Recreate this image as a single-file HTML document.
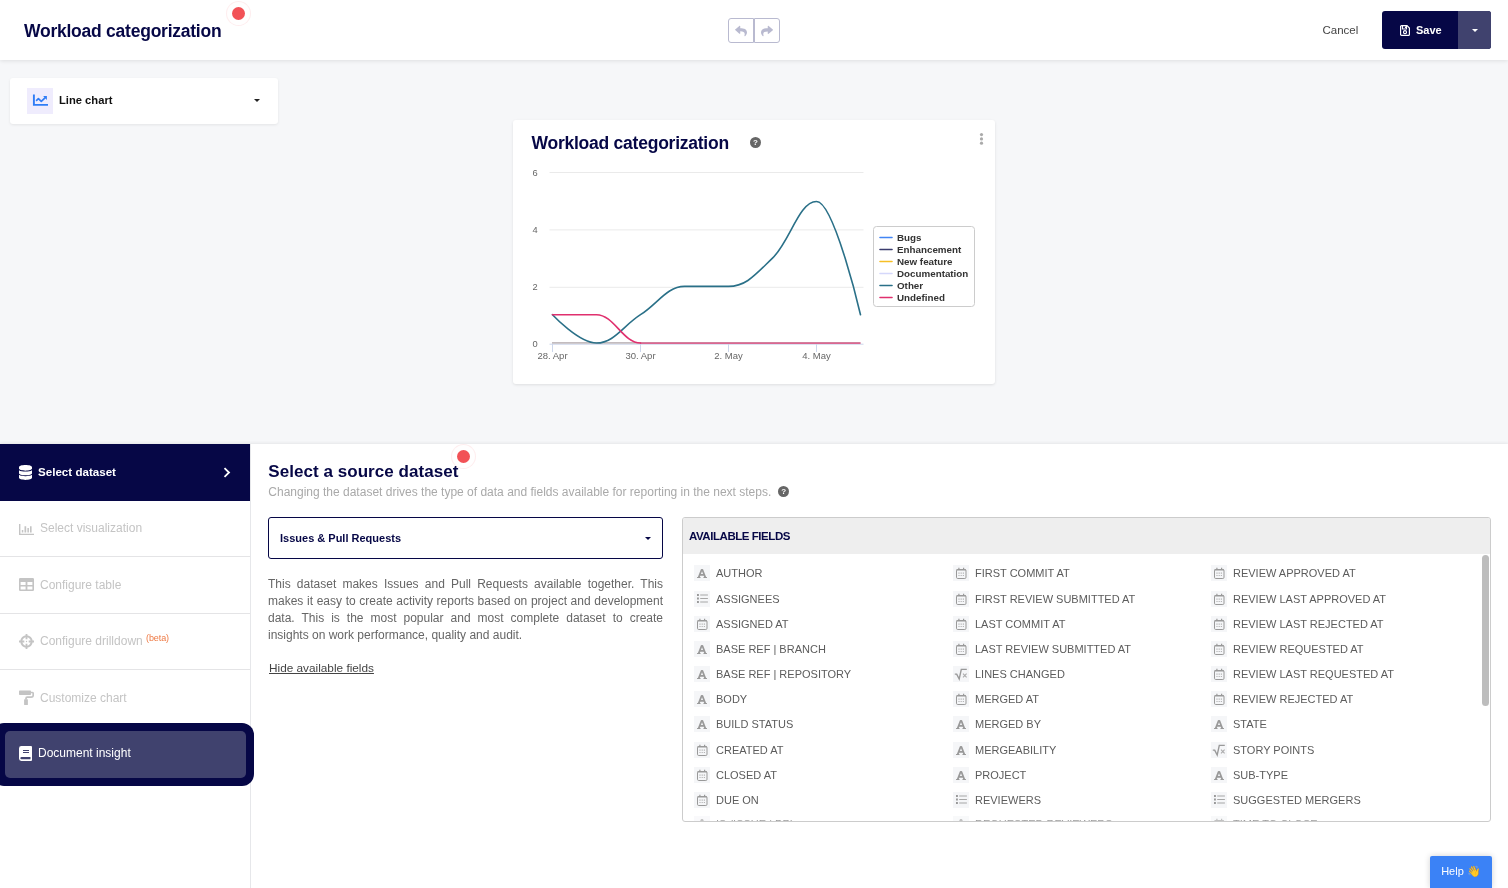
<!DOCTYPE html>
<html lang="en">
<head>
<meta charset="utf-8">
<title>Workload categorization</title>
<style>
*{box-sizing:border-box;margin:0;padding:0}
html,body{width:1508px;height:888px;overflow:hidden}
body{background:#f6f7f9;font-family:"Liberation Sans",sans-serif;color:#333;position:relative}
.abs{position:absolute}
/* header */
#hdr{position:absolute;left:0;top:0;width:1508px;height:60px;background:#fff;box-shadow:0 1px 4px rgba(0,0,0,.10)}
.h1{position:absolute;font-weight:700;color:#060746;white-space:nowrap;line-height:1}
.dot{position:absolute;width:13px;height:13px;border-radius:50%;background:#f25156;box-shadow:0 0 0 5px rgba(255,255,255,.9),0 0 0 6px rgba(242,81,86,.10)}
.ubtn{position:absolute;top:18px;width:26px;height:25px;border:1px solid #b9bad0;background:#fff;border-radius:3px}
.ubtn svg{position:absolute;left:6px;top:6px;width:12px;height:12px;fill:#b9bad0}
#cancel{position:absolute;left:1322.500px;top:23px;font-size:11.5px;line-height:14px;color:#444}
#save{position:absolute;left:1382px;top:11px;width:109px;height:38px;background:#060746;border-radius:3px;overflow:hidden}
#save .dd{position:absolute;left:76px;top:0;width:33px;height:38px;background:#40426e}
#save .tx{position:absolute;left:34px;top:12px;font-size:11px;line-height:14px;font-weight:700;color:#fff}
/* selector card */
#sel{position:absolute;left:10px;top:77.500px;width:267.500px;height:46px;background:#fff;border-radius:3px;box-shadow:0 1px 3px rgba(0,0,0,.08)}
#sel .ic{position:absolute;left:17px;top:10.500px;width:26px;height:26px;background:#efecfd}
#sel .tx{position:absolute;left:49px;top:15.500px;font-size:11.2px;line-height:14px;font-weight:700;color:#111}
.caret{position:absolute;width:0;height:0;border-left:3px solid transparent;border-right:3px solid transparent;border-top:3.5px solid #222}
/* chart card */
#card{position:absolute;left:513px;top:120px;width:482px;height:264px;background:#fff;border-radius:3px;box-shadow:0 1px 3px rgba(0,0,0,.10)}
/* bottom panel */
#panel{position:absolute;left:0;top:444px;width:1508px;height:444px;background:#fff;box-shadow:0 -1px 3px rgba(0,0,0,.07)}
#side{position:absolute;left:0;top:0;width:251px;height:444px;border-right:1px solid #e6e7ea}
.step{position:absolute;left:0;width:250px;height:57px;border-bottom:1px solid #e4e4e6;color:#c4c4c4;font-size:12px}
.step .tx{position:absolute;left:40px;top:21px;line-height:14px;white-space:nowrap}
.step svg{position:absolute;fill:#c4c4c4}
.step.on{background:#060746;color:#fff;border:0;font-weight:700;font-size:11.6px}
.beta{font-size:9px;color:#ee7a45;position:relative;top:-4px;left:0;letter-spacing:-.1px}
#doc{position:absolute;left:-8px;top:279px;width:262px;height:63px;background:#060746;border-radius:12px}
#doc .in{position:absolute;left:13px;top:8px;width:241px;height:47px;background:#40426e;border-radius:5px}
#doc .tx{position:absolute;left:46px;top:23px;font-size:12px;line-height:14px;color:#fff;white-space:nowrap}
/* content */
#sub{position:absolute;left:268.300px;top:41px;font-size:12px;line-height:14px;color:#a9a9a9;white-space:nowrap}
.q{position:absolute;width:11px;height:11px;border-radius:50%;background:#666;color:#fff;font-size:8px;font-weight:700;line-height:11px;text-align:center}
#dd{position:absolute;left:268px;top:73px;width:395px;height:42px;border:1px solid #060746;border-radius:3px}
#dd .tx{position:absolute;left:11px;top:13px;font-size:11px;line-height:14px;font-weight:700;color:#060746;white-space:nowrap}
#desc{position:absolute;left:268px;top:131.500px;width:395px;font-size:12px;line-height:17px;color:#666}
#desc div{text-align:justify;text-align-last:justify;white-space:nowrap;height:17px}
#desc div.last{text-align:left;text-align-last:left}
#hide{position:absolute;left:269px;top:217px;font-size:11.8px;line-height:14px;color:#444;text-decoration:underline;white-space:nowrap}
#af{position:absolute;left:682px;top:73px;width:809px;height:305px;border:1px solid #ccc;border-radius:3px;overflow:hidden;background:#fff}
#af .hd{position:absolute;left:0;top:0;width:100%;height:36px;background:#eee}
#af .hd span{position:absolute;left:6px;top:11px;font-size:11.5px;letter-spacing:-.45px;line-height:14px;font-weight:700;color:#060746;white-space:nowrap}
#af .sb{position:absolute;left:799px;top:37px;width:7px;height:151px;border-radius:3.500px;background:#bdbdbd}
.f{position:absolute;height:16px;font-size:11px;line-height:16px;color:#5c5c5c;white-space:nowrap;padding-left:22px}
.f i{position:absolute;left:0;top:0;width:16px;height:16px;background:#f5f6f8}
.f svg{position:absolute;left:0;top:0;fill:#999}
#help{position:absolute;left:1430px;top:856px;width:62px;height:32px;background:#3b82f6;border-radius:2px 2px 0 0;color:#fff;font-size:11px;line-height:30.500px;text-align:center;white-space:nowrap;box-shadow:0 0 6px rgba(0,0,0,.18)}
</style>
</head>
<body>
<div id="hdr">
  <div class="h1" id="t1" style="left:24px;top:22.500px;font-size:17.5px;letter-spacing:-.24px">Workload categorization</div>
  <div class="dot" style="left:232px;top:7px"></div>
  <div class="ubtn" style="left:728px;border-radius:3px 0 0 3px"><svg viewBox="0 0 512 512"><path d="M8.3 189.9L184.3 37.9C199.7 24.6 224 35.4 224 56v80.1c160.600 1.800 288 34 288 186.300 0 61.400-39.600 122.300-83.300 154.100-13.700 9.900-33.100-2.500-28.100-18.600C446 312.700 379.100 266.300 224 264.100V352c0 20.700-24.300 31.500-39.700 18.200l-176-152c-11.100-9.600-11.100-26.800 0-36.300z"/></svg></div>
  <div class="ubtn" style="left:754px;border-radius:0 3px 3px 0"><svg viewBox="0 0 512 512"><path d="M503.700 189.800L327.700 37.900C312.300 24.500 288 35.300 288 56v80.100C127.400 137.900 0 170.100 0 322.300c0 61.400 39.600 122.300 83.300 154.100 13.700 9.900 33.100-2.500 28.100-18.600C66.100 312.800 132.900 274.300 288 272.100V360c0 20.700 24.300 31.500 39.700 18.200l176-152c11.100-9.500 11.100-26.700 0-36.400z"/></svg></div>
  <div id="cancel">Cancel</div>
  <div id="save"><div class="dd"><div class="caret" style="left:13.500px;top:18px;border-top-color:#fff"></div></div>
    <svg class="abs" style="left:18px;top:14px" width="10" height="11" viewBox="0 0 10 11" fill="none" stroke="#fff" stroke-width="1.200"><path d="M0.600 1.600a1 1 0 0 1 1-1H7L9.400 3v6.400a1 1 0 0 1-1 1H1.600a1 1 0 0 1-1-1z"/><path d="M2.500 0.800V4h4V0.800M5.500 1.500v1.500"/><circle cx="5" cy="7.200" r="1.500"/></svg>
    <div class="tx">Save</div></div>
</div>

<div id="sel">
  <div class="ic"><svg class="abs" style="left:0;top:0" width="26" height="26" viewBox="0 0 26 26" fill="none" stroke="#2f7df6"><path d="M6.900 6.500V16.900H21" stroke-width="1.900"/><path d="M9.600 12.300L11.400 10.600 14.300 13.300 18 9.800" stroke-width="1.700" stroke-linejoin="round" stroke-linecap="round"/><path d="M16.100 8.100h3.800v3.800z" fill="#2f7df6" stroke="none"/></svg></div>
  <div class="tx">Line chart</div>
  <div class="caret" style="left:244px;top:21.500px"></div>
</div>

<div id="card">
  <div class="h1" id="t2" style="left:18.500px;top:14.500px;font-size:17.5px;letter-spacing:-.24px">Workload categorization</div>
  <div class="q" style="left:237px;top:17px">?</div>
  <svg class="abs" style="left:0;top:0" width="482" height="264" viewBox="513 120 482 264" font-family="Liberation Sans, sans-serif">
    <g fill="#aaa"><circle cx="981.500" cy="134.600" r="1.600"/><circle cx="981.500" cy="138.900" r="1.600"/><circle cx="981.500" cy="143.200" r="1.600"/></g>
    <g stroke="#eaeaea" stroke-width="1"><path d="M549.500 172.500H863.500M549.500 229.900H863.500M549.500 287.300H863.500"/></g>
    <path d="M549.500 344.200H863.500" stroke="#ccd6eb" stroke-width="1"/>
    <path d="M552.500 344v8M640.500 344v8M728.500 344v8M816.500 344v8" stroke="#ccd6eb" stroke-width="1"/>
    <g font-size="9.300" fill="#666" text-anchor="end"><text x="537.600" y="176">6</text><text x="537.600" y="233">4</text><text x="537.600" y="290">2</text><text x="537.600" y="347">0</text></g>
    <g font-size="9.500" fill="#666" text-anchor="middle"><text x="552.500" y="359">28. Apr</text><text x="640.500" y="359">30. Apr</text><text x="728.500" y="359">2. May</text><text x="816.500" y="359">4. May</text></g>
    <path d="M552 342.900H860.500" stroke="#c3bcbf" stroke-width="1.800" fill="none"/>
    <path d="M 552.50 314.70 C 552.50 314.70 578.90 343.00 596.50 343.00 C 614.10 343.00 622.90 326.02 640.50 314.70 C 658.10 303.38 666.90 286.40 684.50 286.40 C 702.10 286.40 710.90 286.40 728.50 286.40 C 746.10 286.40 754.90 275.08 772.50 258.10 C 790.10 241.12 798.90 201.50 816.50 201.50 C 834.10 201.50 860.50 314.70 860.50 314.70" stroke="#2a7088" stroke-width="1.600" fill="none" stroke-linecap="round"/>
    <path d="M640 343.100H860.500" stroke="#e1447c" stroke-width="1.350" fill="none"/>
    <path d="M 552.50 314.70 C 552.50 314.70 578.90 314.70 596.50 314.70 C 614.10 314.70 622.90 343.00 640.50 343.00" stroke="#e0306e" stroke-width="1.600" fill="none" stroke-linecap="round"/>
    <rect x="873.500" y="226.500" width="101" height="80" rx="3" fill="#fff" stroke="#ccc"/>
    <g stroke-width="1.600" stroke-linecap="round"><path d="M880 237.500h12" stroke="#4285f4"/><path d="M880 249.500h12" stroke="#3b3c6e"/><path d="M880 261.500h12" stroke="#f6bf26"/><path d="M880 273.500h12" stroke="#d5d8fb"/><path d="M880 285.500h12" stroke="#2a7088"/><path d="M880 297.500h12" stroke="#e0306e"/></g>
    <g font-size="9.800" font-weight="700" fill="#333"><text x="897" y="241">Bugs</text><text x="897" y="253">Enhancement</text><text x="897" y="265">New feature</text><text x="897" y="277">Documentation</text><text x="897" y="289">Other</text><text x="897" y="301">Undefined</text></g>
  </svg>
</div>

<div id="panel">
  <div id="side">
    <div class="step on" style="top:0;height:57px"><svg style="left:19px;top:21px" width="13" height="15" viewBox="0 0 448 512" fill="#fff"><path fill="#fff" d="M448 73.100v45.800C448 159.100 347.700 192 224 192S0 159.100 0 118.900V73.100C0 32.900 100.300 0 224 0s224 32.900 224 73.100zM448 176v102.900C448 319.100 347.700 352 224 352S0 319.100 0 278.900V176c48.100 33.100 136.200 48.600 224 48.600S399.900 209.100 448 176zm0 160v102.900C448 479.100 347.700 512 224 512S0 479.100 0 438.900V336c48.100 33.100 136.200 48.600 224 48.600S399.900 369.100 448 336z"/></svg><div class="tx" style="left:38px">Select dataset</div>
      <svg style="left:223px;top:23px" width="8" height="11" viewBox="0 0 8 11" fill="none"><path d="M1.500 1.200L6 5.500 1.500 9.800" stroke="#fff" stroke-width="1.800" fill="none"/></svg></div>
    <div class="step" style="top:57px;height:56px"><svg style="left:19px;top:23px" width="15" height="11" viewBox="0 0 15 11"><path d="M0 0h1.400v9.700H15V11H0zM2.800 6.100h1.500v2.300H2.800zM5.500 2.200h1.700v6.200H5.500zM8.400 3.900h1.500v4.500H8.400zM11 2.200h1.600v6.200H11z"/></svg><div class="tx" style="top:20px">Select visualization</div></div>
    <div class="step" style="top:113px;height:57px"><svg style="left:19px;top:21px" width="15" height="13" viewBox="0 0 15 13"><path fill-rule="evenodd" d="M1.200 0h12.600A1.200 1.200 0 0 1 15 1.200v10.600a1.200 1.200 0 0 1-1.200 1.200H1.200A1.200 1.200 0 0 1 0 11.800V1.200A1.200 1.200 0 0 1 1.200 0zM1.600 4v3h5V4zM8.400 4v3h5V4zM1.600 8.500v3h5v-3zM8.400 8.500v3h5v-3z"/></svg><div class="tx">Configure table</div></div>
    <div class="step" style="top:170px;height:56px"><svg style="left:19px;top:20px" width="15" height="15" viewBox="0 0 15 15"><circle cx="7.500" cy="7.500" r="5.200" fill="none" stroke="#c4c4c4" stroke-width="2"/><path d="M6.600 0h1.800v5.300H6.600zM6.600 9.700h1.800V15H6.600zM0 6.600h5.300v1.800H0zM9.700 6.600H15v1.800H9.700z"/><circle cx="7.500" cy="7.500" r=".7"/></svg><div class="tx" style="top:19.900px">Configure drilldown <span class="beta">(beta)</span></div></div>
    <div class="step" style="top:226px;height:57px;border:0"><svg style="left:19px;top:20px" width="15" height="15" viewBox="0 0 15 15"><rect x="0" y=".6" width="12" height="4.300" rx=".7"/><path d="M12 2.500h1.200a1 1 0 0 1 1 1v1.700a2 2 0 0 1-2 2H8.200a1.200 1.200 0 0 0-1.200 1.200v1" fill="none" stroke="#c4c4c4" stroke-width="1.700"/><rect x="5.100" y="9.200" width="3.800" height="5.800" rx=".6"/></svg><div class="tx" style="top:20.500px">Customize chart</div></div>
    <div id="doc"><div class="in"></div>
      <svg class="abs" style="left:27px;top:23px" width="13" height="15" viewBox="0 0 13 15"><path fill="#fff" fill-rule="evenodd" d="M2.400 0H12a1 1 0 0 1 1 1v13a1 1 0 0 1-1 1H2.400A2.400 2.400 0 0 1 0 12.600V2.400A2.400 2.400 0 0 1 2.400 0zM4 4v1h6V4zM4 6v1h6V6zM2.500 11a1 1 0 0 0 0 2.300H11.500V11z"/></svg>
      <div class="tx">Document insight</div></div>
  </div>

  <div class="h1" id="t3" style="left:268.300px;top:19px;font-size:17px;letter-spacing:.05px">Select a source dataset</div>
  <div class="dot" style="left:457px;top:5.500px"></div>
  <div id="sub">Changing the dataset drives the type of data and fields available for reporting in the next steps.</div>
  <div class="q" style="left:778.300px;top:42px">?</div>
  <div id="dd"><div class="tx">Issues &amp; Pull Requests</div><div class="caret" style="left:376px;top:18.500px;border-top-color:#060746"></div></div>
  <div id="desc"><div>This dataset makes Issues and Pull Requests available together. This</div><div>makes it easy to create activity reports based on project and development</div><div>data. This is the most popular and most complete dataset to create</div><div class="last">insights on work performance, quality and audit.</div></div>
  <div id="hide">Hide available fields</div>

  <div id="af">
    <div class="hd"><span>AVAILABLE FIELDS</span></div>
    <div class="sb"></div>
    <div id="fields">
<div class="f" style="left:11px;top:47px"><i><svg style="left:3px;top:3.700px" width="10" height="9.300" viewBox="0 32 448 448" preserveAspectRatio="none"><path d="M432 416h-23.410L277.880 53.690A32 32 0 0 0 247.580 32h-47.160a32 32 0 0 0-30.300 21.690L39.410 416H16a16 16 0 0 0-16 16v32a16 16 0 0 0 16 16h128a16 16 0 0 0 16-16v-32a16 16 0 0 0-16-16h-19.580l23.300-64h152.560l23.300 64H304a16 16 0 0 0-16 16v32a16 16 0 0 0 16 16h128a16 16 0 0 0 16-16v-32a16 16 0 0 0-16-16zM176.850 272L224 142.510 271.150 272z"/></svg></i>AUTHOR</div>
<div class="f" style="left:11px;top:73px"><i><svg width="16" height="16" viewBox="0 0 16 16"><path d="M3 3.100h1.900v1.900H3zM3 6.600h1.900v1.900H3zM3 10.100h1.900v1.900H3z"/><path d="M6.200 3.500h7.700v1.100H6.200zM6.200 7h7.700v1.100H6.200zM6.200 10.500h7.700v1.100H6.200z" opacity=".85"/></svg></i>ASSIGNEES</div>
<div class="f" style="left:11px;top:98px"><i><svg width="16" height="16" viewBox="0 0 16 16"><rect x="3.500" y="4.500" width="9.500" height="9" rx="1.200" fill="none" stroke="#999" stroke-width="1"/><path d="M3.500 4.300h9.500v1.300H3.500zM5.300 2.800h1.200v1.800H5.300zM10 2.800h1.200v1.800H10z"/><path d="M5.400 7.500h1.200v1.200H5.400zM7.600 7.500h1.200v1.200H7.600zM9.800 7.500h1.200v1.200H9.800zM5.400 9.900h1.200v1.200H5.400zM7.600 9.900h1.200v1.200H7.600zM9.800 9.900h1.200v1.200H9.800z" opacity=".7"/></svg></i>ASSIGNED AT</div>
<div class="f" style="left:11px;top:123px"><i><svg style="left:3px;top:3.700px" width="10" height="9.300" viewBox="0 32 448 448" preserveAspectRatio="none"><path d="M432 416h-23.410L277.880 53.690A32 32 0 0 0 247.580 32h-47.160a32 32 0 0 0-30.300 21.690L39.410 416H16a16 16 0 0 0-16 16v32a16 16 0 0 0 16 16h128a16 16 0 0 0 16-16v-32a16 16 0 0 0-16-16h-19.580l23.300-64h152.560l23.300 64H304a16 16 0 0 0-16 16v32a16 16 0 0 0 16 16h128a16 16 0 0 0 16-16v-32a16 16 0 0 0-16-16zM176.850 272L224 142.510 271.150 272z"/></svg></i>BASE REF | BRANCH</div>
<div class="f" style="left:11px;top:148px"><i><svg style="left:3px;top:3.700px" width="10" height="9.300" viewBox="0 32 448 448" preserveAspectRatio="none"><path d="M432 416h-23.410L277.880 53.690A32 32 0 0 0 247.580 32h-47.160a32 32 0 0 0-30.300 21.690L39.410 416H16a16 16 0 0 0-16 16v32a16 16 0 0 0 16 16h128a16 16 0 0 0 16-16v-32a16 16 0 0 0-16-16h-19.580l23.300-64h152.560l23.300 64H304a16 16 0 0 0-16 16v32a16 16 0 0 0 16 16h128a16 16 0 0 0 16-16v-32a16 16 0 0 0-16-16zM176.850 272L224 142.510 271.150 272z"/></svg></i>BASE REF | REPOSITORY</div>
<div class="f" style="left:11px;top:173px"><i><svg style="left:3px;top:3.700px" width="10" height="9.300" viewBox="0 32 448 448" preserveAspectRatio="none"><path d="M432 416h-23.410L277.880 53.690A32 32 0 0 0 247.580 32h-47.160a32 32 0 0 0-30.300 21.690L39.410 416H16a16 16 0 0 0-16 16v32a16 16 0 0 0 16 16h128a16 16 0 0 0 16-16v-32a16 16 0 0 0-16-16h-19.580l23.300-64h152.560l23.300 64H304a16 16 0 0 0-16 16v32a16 16 0 0 0 16 16h128a16 16 0 0 0 16-16v-32a16 16 0 0 0-16-16zM176.850 272L224 142.510 271.150 272z"/></svg></i>BODY</div>
<div class="f" style="left:11px;top:198px"><i><svg style="left:3px;top:3.700px" width="10" height="9.300" viewBox="0 32 448 448" preserveAspectRatio="none"><path d="M432 416h-23.410L277.880 53.690A32 32 0 0 0 247.580 32h-47.160a32 32 0 0 0-30.300 21.690L39.410 416H16a16 16 0 0 0-16 16v32a16 16 0 0 0 16 16h128a16 16 0 0 0 16-16v-32a16 16 0 0 0-16-16h-19.580l23.300-64h152.560l23.300 64H304a16 16 0 0 0-16 16v32a16 16 0 0 0 16 16h128a16 16 0 0 0 16-16v-32a16 16 0 0 0-16-16zM176.850 272L224 142.510 271.150 272z"/></svg></i>BUILD STATUS</div>
<div class="f" style="left:11px;top:224px"><i><svg width="16" height="16" viewBox="0 0 16 16"><rect x="3.500" y="4.500" width="9.500" height="9" rx="1.200" fill="none" stroke="#999" stroke-width="1"/><path d="M3.500 4.300h9.500v1.300H3.500zM5.300 2.800h1.200v1.800H5.300zM10 2.800h1.200v1.800H10z"/><path d="M5.400 7.500h1.200v1.200H5.400zM7.600 7.500h1.200v1.200H7.600zM9.800 7.500h1.200v1.200H9.800zM5.400 9.900h1.200v1.200H5.400zM7.600 9.900h1.200v1.200H7.600zM9.800 9.900h1.200v1.200H9.800z" opacity=".7"/></svg></i>CREATED AT</div>
<div class="f" style="left:11px;top:249px"><i><svg width="16" height="16" viewBox="0 0 16 16"><rect x="3.500" y="4.500" width="9.500" height="9" rx="1.200" fill="none" stroke="#999" stroke-width="1"/><path d="M3.500 4.300h9.500v1.300H3.500zM5.300 2.800h1.200v1.800H5.300zM10 2.800h1.200v1.800H10z"/><path d="M5.400 7.500h1.200v1.200H5.400zM7.600 7.500h1.200v1.200H7.600zM9.800 7.500h1.200v1.200H9.800zM5.400 9.900h1.200v1.200H5.400zM7.600 9.900h1.200v1.200H7.600zM9.800 9.900h1.200v1.200H9.800z" opacity=".7"/></svg></i>CLOSED AT</div>
<div class="f" style="left:11px;top:274px"><i><svg width="16" height="16" viewBox="0 0 16 16"><rect x="3.500" y="4.500" width="9.500" height="9" rx="1.200" fill="none" stroke="#999" stroke-width="1"/><path d="M3.500 4.300h9.500v1.300H3.500zM5.300 2.800h1.200v1.800H5.300zM10 2.800h1.200v1.800H10z"/><path d="M5.400 7.500h1.200v1.200H5.400zM7.600 7.500h1.200v1.200H7.600zM9.800 7.500h1.200v1.200H9.800zM5.400 9.900h1.200v1.200H5.400zM7.600 9.900h1.200v1.200H7.600zM9.800 9.900h1.200v1.200H9.800z" opacity=".7"/></svg></i>DUE ON</div>
<div class="f" style="left:11px;top:297.5px;opacity:.6"><i><svg style="left:3px;top:3.700px" width="10" height="9.300" viewBox="0 32 448 448" preserveAspectRatio="none"><path d="M432 416h-23.410L277.880 53.690A32 32 0 0 0 247.580 32h-47.160a32 32 0 0 0-30.300 21.690L39.410 416H16a16 16 0 0 0-16 16v32a16 16 0 0 0 16 16h128a16 16 0 0 0 16-16v-32a16 16 0 0 0-16-16h-19.580l23.300-64h152.560l23.300 64H304a16 16 0 0 0-16 16v32a16 16 0 0 0 16 16h128a16 16 0 0 0 16-16v-32a16 16 0 0 0-16-16zM176.850 272L224 142.510 271.150 272z"/></svg></i>IS (ISSUE | PR)</div>
<div class="f" style="left:270px;top:47px"><i><svg width="16" height="16" viewBox="0 0 16 16"><rect x="3.500" y="4.500" width="9.500" height="9" rx="1.200" fill="none" stroke="#999" stroke-width="1"/><path d="M3.500 4.300h9.500v1.300H3.500zM5.300 2.800h1.200v1.800H5.300zM10 2.800h1.200v1.800H10z"/><path d="M5.400 7.500h1.200v1.200H5.400zM7.600 7.500h1.200v1.200H7.600zM9.800 7.500h1.200v1.200H9.800zM5.400 9.900h1.200v1.200H5.400zM7.600 9.900h1.200v1.200H7.600zM9.800 9.900h1.200v1.200H9.800z" opacity=".7"/></svg></i>FIRST COMMIT AT</div>
<div class="f" style="left:270px;top:73px"><i><svg width="16" height="16" viewBox="0 0 16 16"><rect x="3.500" y="4.500" width="9.500" height="9" rx="1.200" fill="none" stroke="#999" stroke-width="1"/><path d="M3.500 4.300h9.500v1.300H3.500zM5.300 2.800h1.200v1.800H5.300zM10 2.800h1.200v1.800H10z"/><path d="M5.400 7.500h1.200v1.200H5.400zM7.600 7.500h1.200v1.200H7.600zM9.800 7.500h1.200v1.200H9.800zM5.400 9.900h1.200v1.200H5.400zM7.600 9.900h1.200v1.200H7.600zM9.800 9.900h1.200v1.200H9.800z" opacity=".7"/></svg></i>FIRST REVIEW SUBMITTED AT</div>
<div class="f" style="left:270px;top:98px"><i><svg width="16" height="16" viewBox="0 0 16 16"><rect x="3.500" y="4.500" width="9.500" height="9" rx="1.200" fill="none" stroke="#999" stroke-width="1"/><path d="M3.500 4.300h9.500v1.300H3.500zM5.300 2.800h1.200v1.800H5.300zM10 2.800h1.200v1.800H10z"/><path d="M5.400 7.500h1.200v1.200H5.400zM7.600 7.500h1.200v1.200H7.600zM9.800 7.500h1.200v1.200H9.800zM5.400 9.900h1.200v1.200H5.400zM7.600 9.900h1.200v1.200H7.600zM9.800 9.900h1.200v1.200H9.800z" opacity=".7"/></svg></i>LAST COMMIT AT</div>
<div class="f" style="left:270px;top:123px"><i><svg width="16" height="16" viewBox="0 0 16 16"><rect x="3.500" y="4.500" width="9.500" height="9" rx="1.200" fill="none" stroke="#999" stroke-width="1"/><path d="M3.500 4.300h9.500v1.300H3.500zM5.300 2.800h1.200v1.800H5.300zM10 2.800h1.200v1.800H10z"/><path d="M5.400 7.500h1.200v1.200H5.400zM7.600 7.500h1.200v1.200H7.600zM9.800 7.500h1.200v1.200H9.800zM5.400 9.900h1.200v1.200H5.400zM7.600 9.900h1.200v1.200H7.600zM9.800 9.900h1.200v1.200H9.800z" opacity=".7"/></svg></i>LAST REVIEW SUBMITTED AT</div>
<div class="f" style="left:270px;top:148px"><i><svg width="16" height="16" viewBox="0 0 16 16"><path d="M1.800 8.100H3.700L6.200 13 8.300 3.400H13.800" fill="none" stroke="#999" stroke-width="1.400" stroke-linejoin="miter"/><path d="M10 7.700l3.600 3.600M13.600 7.700L10 11.300" fill="none" stroke="#999" stroke-width="1.100" opacity=".8"/></svg></i>LINES CHANGED</div>
<div class="f" style="left:270px;top:173px"><i><svg width="16" height="16" viewBox="0 0 16 16"><rect x="3.500" y="4.500" width="9.500" height="9" rx="1.200" fill="none" stroke="#999" stroke-width="1"/><path d="M3.500 4.300h9.500v1.300H3.500zM5.300 2.800h1.200v1.800H5.300zM10 2.800h1.200v1.800H10z"/><path d="M5.400 7.500h1.200v1.200H5.400zM7.600 7.500h1.200v1.200H7.600zM9.800 7.500h1.200v1.200H9.800zM5.400 9.900h1.200v1.200H5.400zM7.600 9.900h1.200v1.200H7.600zM9.800 9.900h1.200v1.200H9.800z" opacity=".7"/></svg></i>MERGED AT</div>
<div class="f" style="left:270px;top:198px"><i><svg style="left:3px;top:3.700px" width="10" height="9.300" viewBox="0 32 448 448" preserveAspectRatio="none"><path d="M432 416h-23.410L277.880 53.690A32 32 0 0 0 247.580 32h-47.160a32 32 0 0 0-30.300 21.690L39.410 416H16a16 16 0 0 0-16 16v32a16 16 0 0 0 16 16h128a16 16 0 0 0 16-16v-32a16 16 0 0 0-16-16h-19.580l23.300-64h152.560l23.300 64H304a16 16 0 0 0-16 16v32a16 16 0 0 0 16 16h128a16 16 0 0 0 16-16v-32a16 16 0 0 0-16-16zM176.850 272L224 142.510 271.150 272z"/></svg></i>MERGED BY</div>
<div class="f" style="left:270px;top:224px"><i><svg style="left:3px;top:3.700px" width="10" height="9.300" viewBox="0 32 448 448" preserveAspectRatio="none"><path d="M432 416h-23.410L277.880 53.690A32 32 0 0 0 247.580 32h-47.160a32 32 0 0 0-30.300 21.690L39.410 416H16a16 16 0 0 0-16 16v32a16 16 0 0 0 16 16h128a16 16 0 0 0 16-16v-32a16 16 0 0 0-16-16h-19.580l23.300-64h152.560l23.300 64H304a16 16 0 0 0-16 16v32a16 16 0 0 0 16 16h128a16 16 0 0 0 16-16v-32a16 16 0 0 0-16-16zM176.850 272L224 142.510 271.150 272z"/></svg></i>MERGEABILITY</div>
<div class="f" style="left:270px;top:249px"><i><svg style="left:3px;top:3.700px" width="10" height="9.300" viewBox="0 32 448 448" preserveAspectRatio="none"><path d="M432 416h-23.410L277.880 53.690A32 32 0 0 0 247.580 32h-47.160a32 32 0 0 0-30.300 21.690L39.410 416H16a16 16 0 0 0-16 16v32a16 16 0 0 0 16 16h128a16 16 0 0 0 16-16v-32a16 16 0 0 0-16-16h-19.580l23.300-64h152.560l23.300 64H304a16 16 0 0 0-16 16v32a16 16 0 0 0 16 16h128a16 16 0 0 0 16-16v-32a16 16 0 0 0-16-16zM176.850 272L224 142.510 271.150 272z"/></svg></i>PROJECT</div>
<div class="f" style="left:270px;top:274px"><i><svg width="16" height="16" viewBox="0 0 16 16"><path d="M3 3.100h1.900v1.900H3zM3 6.600h1.900v1.900H3zM3 10.100h1.900v1.900H3z"/><path d="M6.200 3.500h7.700v1.100H6.200zM6.200 7h7.700v1.100H6.200zM6.200 10.500h7.700v1.100H6.200z" opacity=".85"/></svg></i>REVIEWERS</div>
<div class="f" style="left:270px;top:297.5px;opacity:.6"><i><svg style="left:3px;top:3.700px" width="10" height="9.300" viewBox="0 32 448 448" preserveAspectRatio="none"><path d="M432 416h-23.410L277.880 53.690A32 32 0 0 0 247.580 32h-47.160a32 32 0 0 0-30.300 21.690L39.410 416H16a16 16 0 0 0-16 16v32a16 16 0 0 0 16 16h128a16 16 0 0 0 16-16v-32a16 16 0 0 0-16-16h-19.580l23.300-64h152.560l23.300 64H304a16 16 0 0 0-16 16v32a16 16 0 0 0 16 16h128a16 16 0 0 0 16-16v-32a16 16 0 0 0-16-16zM176.850 272L224 142.510 271.150 272z"/></svg></i>REQUESTED REVIEWERS</div>
<div class="f" style="left:528px;top:47px"><i><svg width="16" height="16" viewBox="0 0 16 16"><rect x="3.500" y="4.500" width="9.500" height="9" rx="1.200" fill="none" stroke="#999" stroke-width="1"/><path d="M3.500 4.300h9.500v1.300H3.500zM5.300 2.800h1.200v1.800H5.300zM10 2.800h1.200v1.800H10z"/><path d="M5.400 7.500h1.200v1.200H5.400zM7.600 7.500h1.200v1.200H7.600zM9.800 7.500h1.200v1.200H9.800zM5.400 9.900h1.200v1.200H5.400zM7.600 9.900h1.200v1.200H7.600zM9.800 9.900h1.200v1.200H9.800z" opacity=".7"/></svg></i>REVIEW APPROVED AT</div>
<div class="f" style="left:528px;top:73px"><i><svg width="16" height="16" viewBox="0 0 16 16"><rect x="3.500" y="4.500" width="9.500" height="9" rx="1.200" fill="none" stroke="#999" stroke-width="1"/><path d="M3.500 4.300h9.500v1.300H3.500zM5.300 2.800h1.200v1.800H5.300zM10 2.800h1.200v1.800H10z"/><path d="M5.400 7.500h1.200v1.200H5.400zM7.600 7.500h1.200v1.200H7.600zM9.800 7.500h1.200v1.200H9.800zM5.400 9.900h1.200v1.200H5.400zM7.600 9.900h1.200v1.200H7.600zM9.800 9.900h1.200v1.200H9.800z" opacity=".7"/></svg></i>REVIEW LAST APPROVED AT</div>
<div class="f" style="left:528px;top:98px"><i><svg width="16" height="16" viewBox="0 0 16 16"><rect x="3.500" y="4.500" width="9.500" height="9" rx="1.200" fill="none" stroke="#999" stroke-width="1"/><path d="M3.500 4.300h9.500v1.300H3.500zM5.300 2.800h1.200v1.800H5.300zM10 2.800h1.200v1.800H10z"/><path d="M5.400 7.500h1.200v1.200H5.400zM7.600 7.500h1.200v1.200H7.600zM9.800 7.500h1.200v1.200H9.800zM5.400 9.900h1.200v1.200H5.400zM7.600 9.900h1.200v1.200H7.600zM9.800 9.900h1.200v1.200H9.800z" opacity=".7"/></svg></i>REVIEW LAST REJECTED AT</div>
<div class="f" style="left:528px;top:123px"><i><svg width="16" height="16" viewBox="0 0 16 16"><rect x="3.500" y="4.500" width="9.500" height="9" rx="1.200" fill="none" stroke="#999" stroke-width="1"/><path d="M3.500 4.300h9.500v1.300H3.500zM5.300 2.800h1.200v1.800H5.300zM10 2.800h1.200v1.800H10z"/><path d="M5.400 7.500h1.200v1.200H5.400zM7.600 7.500h1.200v1.200H7.600zM9.800 7.500h1.200v1.200H9.800zM5.400 9.900h1.200v1.200H5.400zM7.600 9.900h1.200v1.200H7.600zM9.800 9.900h1.200v1.200H9.800z" opacity=".7"/></svg></i>REVIEW REQUESTED AT</div>
<div class="f" style="left:528px;top:148px"><i><svg width="16" height="16" viewBox="0 0 16 16"><rect x="3.500" y="4.500" width="9.500" height="9" rx="1.200" fill="none" stroke="#999" stroke-width="1"/><path d="M3.500 4.300h9.500v1.300H3.500zM5.300 2.800h1.200v1.800H5.300zM10 2.800h1.200v1.800H10z"/><path d="M5.400 7.500h1.200v1.200H5.400zM7.600 7.500h1.200v1.200H7.600zM9.800 7.500h1.200v1.200H9.800zM5.400 9.900h1.200v1.200H5.400zM7.600 9.900h1.200v1.200H7.600zM9.800 9.900h1.200v1.200H9.800z" opacity=".7"/></svg></i>REVIEW LAST REQUESTED AT</div>
<div class="f" style="left:528px;top:173px"><i><svg width="16" height="16" viewBox="0 0 16 16"><rect x="3.500" y="4.500" width="9.500" height="9" rx="1.200" fill="none" stroke="#999" stroke-width="1"/><path d="M3.500 4.300h9.500v1.300H3.500zM5.300 2.800h1.200v1.800H5.300zM10 2.800h1.200v1.800H10z"/><path d="M5.400 7.500h1.200v1.200H5.400zM7.600 7.500h1.200v1.200H7.600zM9.800 7.500h1.200v1.200H9.800zM5.400 9.900h1.200v1.200H5.400zM7.600 9.900h1.200v1.200H7.600zM9.800 9.900h1.200v1.200H9.800z" opacity=".7"/></svg></i>REVIEW REJECTED AT</div>
<div class="f" style="left:528px;top:198px"><i><svg style="left:3px;top:3.700px" width="10" height="9.300" viewBox="0 32 448 448" preserveAspectRatio="none"><path d="M432 416h-23.410L277.880 53.690A32 32 0 0 0 247.580 32h-47.160a32 32 0 0 0-30.300 21.690L39.410 416H16a16 16 0 0 0-16 16v32a16 16 0 0 0 16 16h128a16 16 0 0 0 16-16v-32a16 16 0 0 0-16-16h-19.580l23.300-64h152.560l23.300 64H304a16 16 0 0 0-16 16v32a16 16 0 0 0 16 16h128a16 16 0 0 0 16-16v-32a16 16 0 0 0-16-16zM176.850 272L224 142.510 271.150 272z"/></svg></i>STATE</div>
<div class="f" style="left:528px;top:224px"><i><svg width="16" height="16" viewBox="0 0 16 16"><path d="M1.800 8.100H3.700L6.200 13 8.300 3.400H13.800" fill="none" stroke="#999" stroke-width="1.400" stroke-linejoin="miter"/><path d="M10 7.700l3.600 3.600M13.600 7.700L10 11.300" fill="none" stroke="#999" stroke-width="1.100" opacity=".8"/></svg></i>STORY POINTS</div>
<div class="f" style="left:528px;top:249px"><i><svg style="left:3px;top:3.700px" width="10" height="9.300" viewBox="0 32 448 448" preserveAspectRatio="none"><path d="M432 416h-23.410L277.880 53.690A32 32 0 0 0 247.580 32h-47.160a32 32 0 0 0-30.300 21.690L39.410 416H16a16 16 0 0 0-16 16v32a16 16 0 0 0 16 16h128a16 16 0 0 0 16-16v-32a16 16 0 0 0-16-16h-19.580l23.300-64h152.560l23.300 64H304a16 16 0 0 0-16 16v32a16 16 0 0 0 16 16h128a16 16 0 0 0 16-16v-32a16 16 0 0 0-16-16zM176.850 272L224 142.510 271.150 272z"/></svg></i>SUB-TYPE</div>
<div class="f" style="left:528px;top:274px"><i><svg width="16" height="16" viewBox="0 0 16 16"><path d="M3 3.100h1.900v1.900H3zM3 6.600h1.900v1.900H3zM3 10.100h1.900v1.900H3z"/><path d="M6.200 3.500h7.700v1.100H6.200zM6.200 7h7.700v1.100H6.200zM6.200 10.500h7.700v1.100H6.200z" opacity=".85"/></svg></i>SUGGESTED MERGERS</div>
<div class="f" style="left:528px;top:297.5px;opacity:.6"><i><svg width="16" height="16" viewBox="0 0 16 16"><rect x="3.500" y="4.500" width="9.500" height="9" rx="1.200" fill="none" stroke="#999" stroke-width="1"/><path d="M3.500 4.300h9.500v1.300H3.500zM5.300 2.800h1.200v1.800H5.300zM10 2.800h1.200v1.800H10z"/><path d="M5.400 7.500h1.200v1.200H5.400zM7.600 7.500h1.200v1.200H7.600zM9.800 7.500h1.200v1.200H9.800zM5.400 9.900h1.200v1.200H5.400zM7.600 9.900h1.200v1.200H7.600zM9.800 9.900h1.200v1.200H9.800z" opacity=".7"/></svg></i>TIME TO CLOSE</div>
</div>
  </div>
</div>
<div id="help">Help 👋</div>
</body>
</html>
